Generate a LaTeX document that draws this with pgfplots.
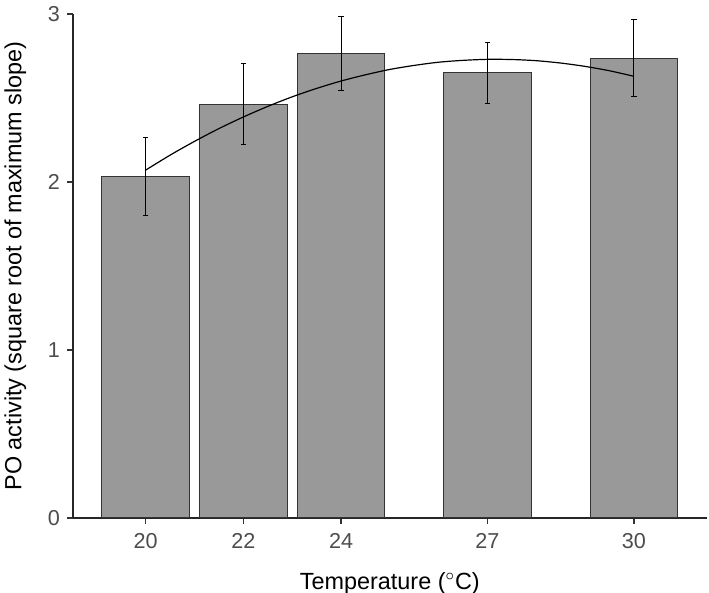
\documentclass[border=0pt]{standalone}
\usepackage{pgfplots}
\pgfplotsset{compat=1.18}
\usepackage{fontspec}
\setmainfont{Liberation Sans}
\definecolor{barfill}{HTML}{999999}
\definecolor{baredge}{HTML}{333333}
\definecolor{ticklab}{HTML}{4D4D4D}
\begin{document}
\begin{tikzpicture}
\begin{axis}[
  at={(0,0)}, anchor=south west,
  scale only axis,
  width=316.85pt, height=252pt,
  xmin=18.51, xmax=31.49,
  ymin=0, ymax=3,
  axis lines=left,
  axis line style={-, line width=0.7pt, color=black!85},
  xtick={20,22,24,27,30},
  ytick={0,1,2,3},
  tick align=outside,
  major tick length=3pt,
  tick style={line width=0.6pt, color=black!80},
  tick label style={font=\fontsize{10.8}{12}\selectfont, color=ticklab},
  xticklabel style={yshift=-1pt},
  /pgf/number format/assume math mode=true,
  xlabel={Temperature ($^{\circ}$C)},
  ylabel={PO activity (square root of maximum slope)},
  every axis x label/.style={at={(ticklabel cs:0.5)}, anchor=north, yshift=-5pt, font=\fontsize{11.7}{14}\selectfont},
  every axis y label/.style={at={(ticklabel cs:0.5)}, anchor=south, rotate=90, yshift=4pt, font=\fontsize{11.7}{14}\selectfont},
  clip=false,
]
\addplot[ybar, bar width=1.8, fill=barfill, draw=baredge, line width=0.5pt,
  error bars/.cd, y dir=both, y explicit,
  error bar style={black, line width=0.5pt},
  error mark options={rotate=90, mark size=1.3pt, black, line width=0.5pt}]
  table[x=x, y=y, y error=e] {
  x y e
  20 2.034 0.231
  22 2.464 0.241
  24 2.764 0.221
  27 2.649 0.180
  30 2.736 0.229
};
\addplot[black, line width=0.6pt, smooth] coordinates {
(20.0,2.071) (20.5,2.160) (21.0,2.242) (21.5,2.318) (22.0,2.387)
(22.5,2.450) (23.0,2.507) (23.5,2.557) (24.0,2.601) (24.5,2.638)
(25.0,2.670) (25.5,2.694) (26.0,2.713) (26.5,2.724) (27.0,2.730)
(27.5,2.729) (28.0,2.722) (28.5,2.708) (29.0,2.688) (29.5,2.662)
(30.0,2.629)
};
\end{axis}
\pgfresetboundingbox
\path (-36.5pt,-37.5pt) rectangle (318pt,259pt);
\end{tikzpicture}
\end{document}
